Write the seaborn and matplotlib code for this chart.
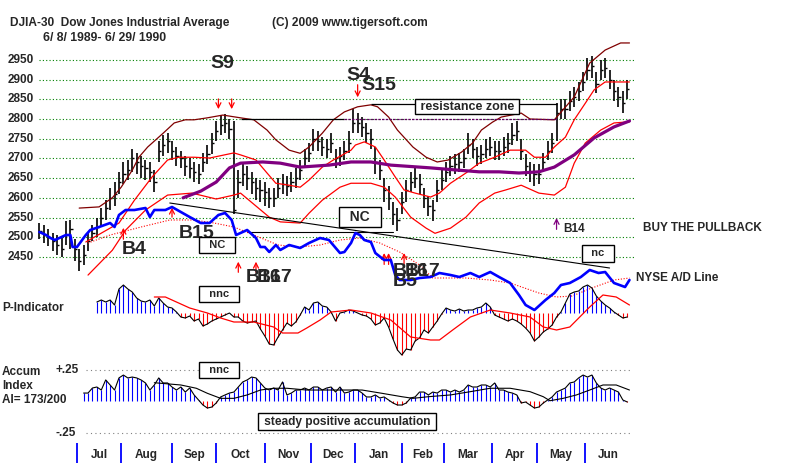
import numpy as np
import pandas as pd
import matplotlib
matplotlib.use("Agg")
import matplotlib.pyplot as plt
import matplotlib.transforms as mtransforms
import seaborn as sns

# ---------------- data ----------------
# one bar per two trading days, day index 0 = 6/8/1989
bar_day = list(range(0, 268, 2))
bar_close = [2515, 2505, 2500, 2490, 2480, 2470, 2505, 2520, 2470, 2440,
             2455, 2490, 2510, 2525, 2550, 2575, 2600, 2610, 2640, 2660,
             2670, 2700, 2690, 2680, 2675, 2665, 2640, 2720, 2735, 2745,
             2720, 2705, 2700, 2680, 2675, 2665, 2660, 2690, 2710, 2740,
             2770, 2785, 2790, 2775, 2570, 2640, 2660, 2650, 2640, 2625,
             2620, 2615, 2600, 2600, 2625, 2635, 2630, 2640, 2650, 2670,
             2700, 2715, 2750, 2745, 2730, 2725, 2740, 2700, 2705, 2720,
             2740, 2790, 2790, 2780, 2765, 2750, 2690, 2670, 2620, 2600,
             2560, 2545, 2590, 2620, 2640, 2650, 2635, 2600, 2580, 2570,
             2620, 2645, 2665, 2680, 2685, 2690, 2700, 2735, 2725, 2705,
             2710, 2725, 2730, 2720, 2720, 2730, 2740, 2760, 2770, 2720,
             2680, 2665, 2660, 2660, 2690, 2720, 2740, 2815, 2825, 2825,
             2845, 2855, 2870, 2895, 2925, 2935, 2890, 2925, 2930, 2900,
             2870, 2855, 2840, 2875]
bar_high = [2535, 2530, 2520, 2512, 2505, 2498, 2540, 2545, 2495, 2470,
            2480, 2510, 2530, 2550, 2575, 2595, 2625, 2640, 2665, 2690,
            2695, 2725, 2715, 2705, 2695, 2690, 2670, 2745, 2760, 2765,
            2745, 2730, 2720, 2705, 2700, 2690, 2685, 2715, 2735, 2765,
            2795, 2810, 2812, 2800, 2795, 2670, 2690, 2680, 2665, 2650,
            2645, 2640, 2625, 2625, 2650, 2660, 2655, 2665, 2675, 2695,
            2725, 2740, 2775, 2770, 2755, 2750, 2765, 2725, 2730, 2745,
            2770, 2825, 2815, 2805, 2790, 2775, 2730, 2695, 2650, 2630,
            2590, 2575, 2615, 2645, 2665, 2675, 2660, 2625, 2605, 2595,
            2645, 2670, 2690, 2705, 2710, 2715, 2725, 2765, 2750, 2730,
            2735, 2750, 2755, 2745, 2745, 2755, 2765, 2790, 2795, 2750,
            2710, 2690, 2685, 2685, 2715, 2745, 2765, 2840, 2850, 2850,
            2870, 2880, 2895, 2920, 2955, 2960, 2920, 2950, 2955, 2925,
            2900, 2880, 2870, 2900]
bar_low = [2495, 2485, 2478, 2465, 2455, 2450, 2480, 2470, 2440, 2415,
           2430, 2465, 2490, 2500, 2525, 2545, 2570, 2580, 2610, 2635,
           2645, 2665, 2660, 2650, 2645, 2640, 2615, 2690, 2705, 2715,
           2695, 2680, 2675, 2655, 2650, 2640, 2635, 2665, 2685, 2710,
           2745, 2760, 2765, 2750, 2560, 2600, 2630, 2620, 2610, 2595,
           2590, 2580, 2575, 2578, 2600, 2610, 2605, 2615, 2625, 2645,
           2675, 2690, 2720, 2720, 2705, 2700, 2715, 2675, 2680, 2695,
           2715, 2765, 2765, 2755, 2740, 2725, 2660, 2645, 2590, 2570,
           2530, 2515, 2560, 2590, 2615, 2625, 2610, 2575, 2555, 2540,
           2590, 2620, 2640, 2655, 2660, 2665, 2675, 2710, 2700, 2680,
           2685, 2700, 2705, 2695, 2695, 2705, 2715, 2735, 2745, 2695,
           2655, 2640, 2630, 2635, 2665, 2695, 2715, 2745, 2800, 2800,
           2820, 2830, 2845, 2870, 2900, 2905, 2865, 2900, 2905, 2875,
           2845, 2830, 2815, 2850]

upper_day = [18, 27, 33, 37, 42, 45, 49, 56, 61, 66, 70, 76, 83, 91, 97,
             103, 107, 113, 118, 122, 128, 133, 138, 144, 150, 153, 158, 162,
             169, 175, 180, 185, 191, 196, 200, 205, 209, 218, 222, 233, 242,
             249, 256, 263, 267]
upper_val = [2574, 2577, 2600, 2627, 2670, 2703, 2729, 2764, 2790, 2798,
             2798, 2803, 2810, 2803, 2798, 2772, 2747, 2721, 2713, 2729,
             2764, 2798, 2818, 2831, 2836, 2831, 2805, 2772, 2729, 2703,
             2691, 2696, 2716, 2739, 2772, 2792, 2805, 2815, 2800, 2798,
             2856, 2942, 2975, 2993, 2993]

mid_day = [21, 36, 43, 51, 58, 63, 70, 77, 88, 91, 98, 103, 107, 113, 118,
           122, 128, 133, 141, 143, 147, 152, 156, 161, 165, 170, 177, 181,
           186, 193, 199, 206, 213, 220, 224, 229, 233, 238, 242, 247, 251,
           256, 263, 267]
mid_val = [2488, 2536, 2594, 2653, 2696, 2703, 2703, 2701, 2714, 2709,
           2696, 2663, 2637, 2632, 2627, 2645, 2678, 2696, 2721, 2734,
           2742, 2729, 2696, 2653, 2620, 2612, 2602, 2612, 2637, 2663,
           2688, 2703, 2721, 2721, 2703, 2703, 2729, 2754, 2798, 2840,
           2874, 2894, 2894, 2894]

lower_day = [22, 33, 39, 48, 58, 69, 80, 88, 91, 104, 109, 118, 122, 128,
             136, 141, 150, 156, 161, 168, 175, 179, 186, 193, 199, 206, 211,
             218, 226, 233, 238, 242, 247, 254, 260, 267]
lower_val = [2404, 2467, 2518, 2569, 2607, 2612, 2597, 2607, 2612, 2551,
             2539, 2536, 2561, 2594, 2627, 2637, 2637, 2627, 2602, 2551,
             2523, 2510, 2523, 2551, 2587, 2612, 2620, 2632, 2612, 2607,
             2627, 2688, 2739, 2772, 2790, 2793]

ma_day = [65, 73, 80, 86, 91, 101, 109, 118, 131, 141, 150, 159, 177, 190,
          199, 208, 217, 226, 233, 242, 251, 260, 267]
ma_val = [2600, 2617, 2640, 2676, 2688, 2691, 2688, 2678, 2683, 2691, 2691,
          2683, 2676, 2670, 2666, 2666, 2663, 2666, 2678, 2709, 2752, 2780,
          2795]

# NYSE A/D line (relative units) and its moving average
ad_day = [0, 3, 5, 7, 9, 12, 14, 15, 17, 21, 23, 27, 32, 34, 36, 39, 43, 48,
          50, 52, 57, 60, 64, 68, 73, 77, 81, 84, 87, 89, 92, 94, 98, 100,
          102, 104, 107, 109, 113, 118, 122, 127, 131, 136, 138, 141, 143,
          145, 147, 150, 152, 156, 159, 161, 163, 168, 172, 177, 181, 186,
          190, 195, 199, 204, 208, 213, 217, 220, 224, 229, 233, 236, 240,
          245, 249, 253, 256, 260, 265, 267]
ad_val = [68, 65, 62, 60, 62, 65, 65, 53, 53, 65, 70, 73, 77, 73, 85, 90, 90,
          92, 83, 90, 90, 93, 88, 83, 77, 77, 85, 87, 80, 65, 68, 70, 62, 53,
          53, 48, 55, 50, 55, 52, 57, 62, 60, 47, 48, 57, 67, 65, 60, 58, 47,
          40, 40, 25, 20, 20, 22, 23, 27, 25, 23, 27, 23, 28, 23, 17, 5, -5,
          -10, 0, 7, 15, 17, 23, 30, 27, 28, 17, 13, 20]
ad_ma_day = [22, 32, 46, 59, 70, 79, 88, 97, 108, 118, 127, 136, 145, 154,
             163, 172, 178, 193, 204, 213, 226, 234, 241, 250, 260, 267]
ad_ma_val = [57, 65, 73, 80, 80, 77, 73, 65, 55, 53, 55, 60, 62, 57, 48, 35,
             22, 22, 20, 17, 7, 3, 4, 12, 20, 22]
trend_day = [59, 258]
trend_val = [97, 32]
nc_day = [94, 160]
nc_val = [68, 68]

# P-Indicator (starts at bar 13) and its moving average
p_val = [11, 13, 11, 13, 8, 24, 28, 24, 21, 15,
         12, 11, 13, 7, 15, 10, 6, 5, 1, -4,
         -5, -3, -8, -6, -13, -11, -8, -6, -4, -2,
         0, -4, -4, -8, -10, -9, -8, -16, -23, -31,
         -32, -24, -17, -10, -13, -9, -2, 6, 3, 10,
         11, 7, 6, 1, -8, 0, 1, 3, 2, 0,
         -2, -3, -6, -12, -10, -5, -14, -26, -37, -42,
         -36, -37, -28, -25, -17, -20, -14, -8, -1, 5,
         3, 2, 4, 2, 3, 3, 5, 6, 10, 6,
         -2, -4, -6, -8, -6, -8, -11, -15, -20, -28,
         -24, -19, -16, -12, -4, 1, 10, 19, 21, 22,
         26, 28, 25, 17, 12, 8, 5, 1, -2, -5, -4]
p_ma_day = [52, 57, 60, 68, 76, 82, 88, 97, 106, 110, 117, 121, 127, 132,
            141, 150, 159, 168, 177, 181, 187, 195, 204, 213, 222, 228, 234,
            240, 249, 255, 261, 267]
p_ma_val = [16, 16, 13, 5, 0, -5, -9, -9, -14, -20, -20, -15, -7, 1, 3, 0,
            -7, -24, -27, -27, -17, -4, 3, 0, -4, -14, -17, -14, 6, 18, 16, 8]

# Accumulation Index (starts at bar 10) and its moving average
ai_val = [.067, .067, .107, .115, .091, .171, .131, .091, .187, .210,
          .187, .194, .187, .171, .147, .091, .131, .187, .147, .147,
          .115, .091, .115, .075, .107, .052, .012, -.028, -.052, -.044,
          -.012, .036, .052, .067, .075, .115, .155, .171, .194, .187,
          .147, .107, .091, .107, .091, .155, .052, .067, .091, .091,
          .107, .091, .115, .115, .091, .107, .115, .075, .115, .067,
          .075, .091, .091, .067, .036, .036, .052, .028, .036, .012,
          -.012, -.028, -.028, -.012, .028, .036, .075, .075, .052, .075,
          .067, .091, .091, .075, .091, .075, .091, .131, .115, .115,
          .131, .131, .115, .147, .091, .091, .075, .067, .052, -.012,
          -.004, -.028, -.052, -.044, -.012, .012, .036, .075, .091, .107,
          .147, .155, .187, .210, .194, .210, .147, .107, .091, .107,
          .091, .075, .012, -.004]
ai_ma_day = [52, 64, 71, 76, 82, 88, 94, 100, 106, 112, 121, 128, 136, 146,
             155, 164, 169, 176, 186, 195, 204, 213, 222, 228, 231, 237, 243,
             249, 255, 261, 267]
ai_ma_val = [.149, .131, .105, .065, .025, .025, .052, .091, .105, .105,
             .091, .091, .091, .091, .065, .038, .025, .038, .052, .078,
             .105, .105, .078, .038, .006, .025, .052, .091, .131, .131, .091]

price_ticks = [2450, 2500, 2550, 2600, 2650, 2700, 2750, 2800, 2850, 2900, 2950]
month_start = [17, 37, 60, 80, 102, 123, 143, 164, 183, 205, 225, 247, 268]
month_names = ["Jul", "Aug", "Sep", "Oct", "Nov", "Dec", "Jan", "Feb", "Mar",
               "Apr", "May", "Jun"]

# signals: day, arrow tail price, arrow head price, colour
sig_day = [81, 87, 144, 38, 60, 90, 98, 156, 158, 165, 234]
sig_from = [2858, 2858, 2894, 2488, 2544, 2404, 2404, 2424, 2424, 2424, 2513]
sig_to = [2818, 2818, 2848, 2531, 2582, 2445, 2445, 2467, 2467, 2467, 2556]
sig_color = ["red"] * 10 + ["#800080"]

resist_level = 2800
resist_top = 2838

# ---------------- drawing ----------------
sns.set_style("white")
plt.rcParams["font.family"] = ["Liberation Sans", "DejaVu Sans"]
plt.rcParams["font.weight"] = "bold"

W, H = 800, 467
XLIM = (-17.83, 344.16)   # day index across the full 800 px width
fig = plt.figure(figsize=(8, 4.67), dpi=100)
fig.patch.set_facecolor("white")


def full_axes(ylim):
    a = fig.add_axes([0, 0, 1, 1])
    a.set_xlim(XLIM)
    a.set_ylim(ylim)
    a.set_axis_off()
    a.patch.set_alpha(0)
    return a


def ftext(x, y, s, **kw):
    kw.setdefault("fontweight", "bold")
    return fig.text(x / W, 1 - y / H, s, **kw)


def boxed(x, y, s, fs, pad):
    return ftext(x, y, s, fontsize=fs, ha="center", va="center",
                 bbox=dict(boxstyle=f"square,pad={pad}", fc="white",
                           ec="black", lw=1))


# price panel
ax = full_axes((1917, 3102))
ax.hlines(price_ticks, 0, 269, colors="#008000", linestyles=(0, (1, 2)), lw=0.8)
ylab = mtransforms.blended_transform_factory(ax.transAxes, ax.transData)
for t in price_ticks:
    ax.text(8 / W, t, str(t), transform=ylab, ha="left", va="center",
            fontsize=8.5, fontweight="bold")

ax.vlines(bar_day, bar_low, bar_high, colors="black", lw=1.2)
ax.hlines(bar_close, bar_day, np.array(bar_day) + 1.0, colors="black", lw=1.0)

sns.lineplot(x=upper_day, y=upper_val, ax=ax, color="#800000", lw=0.9)
sns.lineplot(x=mid_day, y=mid_val, ax=ax, color="red", lw=0.9)
sns.lineplot(x=lower_day, y=lower_val, ax=ax, color="red", lw=0.9)
sns.lineplot(x=ma_day, y=ma_val, ax=ax, color="#800080", lw=2.3)

ax.hlines(resist_level, 91, 138, colors="black", lw=0.9)
ax.hlines(resist_level, 138, 234, colors="#600060", lw=0.9, linestyles=(0, (2, 1)))
ax.hlines(resist_top, 150, 234, colors="black", lw=0.9)

for d, a0, a1, c in zip(sig_day, sig_from, sig_to, sig_color):
    ax.annotate("", xy=(d, a1), xytext=(d, a0),
                arrowprops=dict(arrowstyle="->", color=c, lw=0.9,
                                mutation_scale=9))

# A/D line overlay
ax_ad = full_axes((-167, 300))
sns.lineplot(x=trend_day, y=trend_val, ax=ax_ad, color="black", lw=0.8)
sns.lineplot(x=nc_day, y=nc_val, ax=ax_ad, color="black", lw=0.8)
sns.lineplot(x=ad_ma_day, y=ad_ma_val, ax=ax_ad, color="red", lw=0.8,
             linestyle=(0, (1, 1.5)))
sns.lineplot(x=ad_day, y=ad_val, ax=ax_ad, color="#0000ff", lw=1.9)

# P-Indicator
ax_p = full_axes((-154, 313))
p_day = bar_day[13:]
ax_p.vlines(p_day, 0, p_val, colors=["#0000ff" if v >= 0 else "red" for v in p_val],
            lw=0.8)
sns.lineplot(x=p_day, y=p_val, ax=ax_p, color="black", lw=0.8)
sns.lineplot(x=p_ma_day, y=p_ma_val, ax=ax_p, color="red", lw=0.9)

# Accumulation index
ax_ai = full_axes((-0.52, 3.187))
ax_ai.hlines([0.25, -0.25], 21, 268, colors="gray", linestyles=(0, (1, 3)), lw=0.8)
ai_day = bar_day[10:]
ax_ai.vlines(ai_day, 0, ai_val, colors=["#0000ff" if v >= 0 else "red" for v in ai_val],
             lw=0.8)
sns.lineplot(x=ai_day, y=ai_val, ax=ax_ai, color="black", lw=0.8)
sns.lineplot(x=ai_ma_day, y=ai_ma_val, ax=ax_ai, color="black", lw=0.8)

# month axis
mt = mtransforms.blended_transform_factory(ax.transData, ax.transAxes)
ax.vlines(month_start[:-1], 1 - 463 / H, 1 - 443 / H, transform=mt,
          colors="#0000ff", lw=1.3)
for i, name in enumerate(month_names):
    ax.text((month_start[i] + month_start[i + 1]) / 2, 1 - 455 / H, name,
            transform=mt, ha="center", va="center", fontsize=8.5,
            fontweight="bold")

# header and labels
ftext(10, 23, "DJIA-30  Dow Jones Industrial Average", fontsize=8.6, va="center")
ftext(272, 23, "(C) 2009 www.tigersoft.com", fontsize=8.6, va="center")
ftext(43, 38, "6/ 8/ 1989- 6/ 29/ 1990", fontsize=8.8, va="center")
ftext(2, 308, "P-Indicator", fontsize=8.5, va="center")
ftext(2, 372, "Accum", fontsize=8.5, va="center")
ftext(2, 386, "Index", fontsize=8.5, va="center")
ftext(2, 400, "AI= 173/200", fontsize=8.5, va="center")
ftext(55, 370, "+.25", fontsize=8.5, va="center")
ftext(55, 433, "-.25", fontsize=8.5, va="center")

big = dict(fontsize=14, va="center", ha="left")
ftext(210, 63, "S9", **big)
ftext(346, 76, "S4", **big)
ftext(361, 86, "S15", **big)
ftext(122, 249, "B4", **big)
ftext(179, 233, "B15", **big)
ftext(246, 277, "B16", **big)
ftext(257, 277, "B17", **big)
ftext(393, 271, "B16", **big)
ftext(405, 271, "B17", **big)
ftext(393, 281, "B5", **big)
ftext(563, 229, "B14", fontsize=8.5, va="center")
ftext(643, 228, "BUY THE PULLBACK", fontsize=8.5, va="center")
ftext(636, 278, "NYSE A/D Line", fontsize=8.5, va="center")

boxed(467, 106.5, " resistance zone ", 9, 0.12)
boxed(217, 245, "  NC  ", 8, 0.3)
boxed(360, 217, "  NC  ", 10, 0.25)
boxed(598, 253.5, "  nc  ", 8, 0.3)
boxed(219, 294, "  nnc  ", 8, 0.3)
boxed(219, 370, "  nnc  ", 8, 0.3)
boxed(347, 421.5, " steady positive accumulation ", 8.6, 0.2)

fig.savefig("out.png", dpi=100)
